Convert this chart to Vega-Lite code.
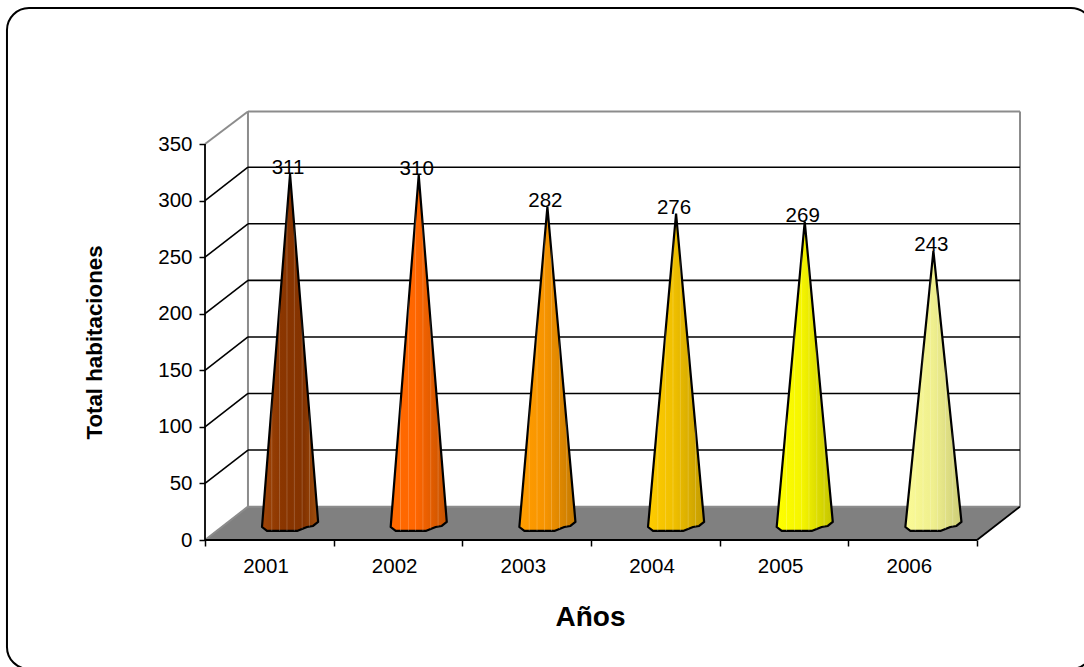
{
"$schema":"https://vega.github.io/schema/vega-lite/v6.json",
"width":815,"height":429,
"autosize":{"type":"none"},
"padding":{"left":205,"top":111,"right":64,"bottom":127},
"background":"white",
"config":{"view":{"stroke":null},"font":"Liberation Sans"},
"datasets":{
"marco":[{"eje":-1.539,"eje2":6.901,"altura":470.2,"altura2":-114}],
"suelo":[{"vertice":1,"eje":0,"altura":0},{"vertice":2,"eje":0.334,"altura":29.5},{"vertice":3,"eje":6.334,"altura":29.5},{"vertice":4,"eje":6,"altura":0}],
"rejilla":[
{"eje":0,"eje2":0.334,"altura":50,"altura2":79.5},{"eje":0,"eje2":0.334,"altura":100,"altura2":129.5},{"eje":0,"eje2":0.334,"altura":150,"altura2":179.5},{"eje":0,"eje2":0.334,"altura":200,"altura2":229.5},{"eje":0,"eje2":0.334,"altura":250,"altura2":279.5},{"eje":0,"eje2":0.334,"altura":300,"altura2":329.5},
{"eje":0.334,"eje2":6.334,"altura":79.5,"altura2":79.5},{"eje":0.334,"eje2":6.334,"altura":129.5,"altura2":129.5},{"eje":0.334,"eje2":6.334,"altura":179.5,"altura2":179.5},{"eje":0.334,"eje2":6.334,"altura":229.5,"altura2":229.5},{"eje":0.334,"eje2":6.334,"altura":279.5,"altura2":279.5},{"eje":0.334,"eje2":6.334,"altura":329.5,"altura2":329.5}],
"conos":[
{"anio":2001,"total":311,"vertice":0,"eje":0.661,"altura":323.5},{"anio":2001,"total":311,"vertice":1,"eje":0.879,"altura":16},{"anio":2001,"total":311,"vertice":2,"eje":0.84,"altura":12.4},{"anio":2001,"total":311,"vertice":3,"eje":0.793,"altura":11.5},{"anio":2001,"total":311,"vertice":4,"eje":0.715,"altura":8},{"anio":2001,"total":311,"vertice":5,"eje":0.482,"altura":8},{"anio":2001,"total":311,"vertice":6,"eje":0.443,"altura":11.5},{"anio":2001,"total":311,"vertice":7,"eje":0.661,"altura":323.5},
{"anio":2002,"total":310,"vertice":0,"eje":1.661,"altura":322.5},{"anio":2002,"total":310,"vertice":1,"eje":1.879,"altura":16},{"anio":2002,"total":310,"vertice":2,"eje":1.84,"altura":12.4},{"anio":2002,"total":310,"vertice":3,"eje":1.793,"altura":11.5},{"anio":2002,"total":310,"vertice":4,"eje":1.715,"altura":8},{"anio":2002,"total":310,"vertice":5,"eje":1.482,"altura":8},{"anio":2002,"total":310,"vertice":6,"eje":1.443,"altura":11.5},{"anio":2002,"total":310,"vertice":7,"eje":1.661,"altura":322.5},
{"anio":2003,"total":282,"vertice":0,"eje":2.661,"altura":294.5},{"anio":2003,"total":282,"vertice":1,"eje":2.879,"altura":16},{"anio":2003,"total":282,"vertice":2,"eje":2.84,"altura":12.4},{"anio":2003,"total":282,"vertice":3,"eje":2.793,"altura":11.5},{"anio":2003,"total":282,"vertice":4,"eje":2.715,"altura":8},{"anio":2003,"total":282,"vertice":5,"eje":2.482,"altura":8},{"anio":2003,"total":282,"vertice":6,"eje":2.443,"altura":11.5},{"anio":2003,"total":282,"vertice":7,"eje":2.661,"altura":294.5},
{"anio":2004,"total":276,"vertice":0,"eje":3.661,"altura":288.5},{"anio":2004,"total":276,"vertice":1,"eje":3.879,"altura":16},{"anio":2004,"total":276,"vertice":2,"eje":3.84,"altura":12.4},{"anio":2004,"total":276,"vertice":3,"eje":3.793,"altura":11.5},{"anio":2004,"total":276,"vertice":4,"eje":3.715,"altura":8},{"anio":2004,"total":276,"vertice":5,"eje":3.482,"altura":8},{"anio":2004,"total":276,"vertice":6,"eje":3.443,"altura":11.5},{"anio":2004,"total":276,"vertice":7,"eje":3.661,"altura":288.5},
{"anio":2005,"total":269,"vertice":0,"eje":4.661,"altura":281.5},{"anio":2005,"total":269,"vertice":1,"eje":4.879,"altura":16},{"anio":2005,"total":269,"vertice":2,"eje":4.84,"altura":12.4},{"anio":2005,"total":269,"vertice":3,"eje":4.793,"altura":11.5},{"anio":2005,"total":269,"vertice":4,"eje":4.715,"altura":8},{"anio":2005,"total":269,"vertice":5,"eje":4.482,"altura":8},{"anio":2005,"total":269,"vertice":6,"eje":4.443,"altura":11.5},{"anio":2005,"total":269,"vertice":7,"eje":4.661,"altura":281.5},
{"anio":2006,"total":243,"vertice":0,"eje":5.661,"altura":255.5},{"anio":2006,"total":243,"vertice":1,"eje":5.879,"altura":16},{"anio":2006,"total":243,"vertice":2,"eje":5.84,"altura":12.4},{"anio":2006,"total":243,"vertice":3,"eje":5.793,"altura":11.5},{"anio":2006,"total":243,"vertice":4,"eje":5.715,"altura":8},{"anio":2006,"total":243,"vertice":5,"eje":5.482,"altura":8},{"anio":2006,"total":243,"vertice":6,"eje":5.443,"altura":11.5},{"anio":2006,"total":243,"vertice":7,"eje":5.661,"altura":255.5}
]},
"encoding":{
"x":{"field":"eje","type":"quantitative","scale":{"domain":[0,6.334],"nice":false,"zero":false},
"axis":{"title":"Años","titleFontSize":28,"titleFontWeight":"bold","titleColor":"black","titleX":385,"titleY":85,"titleBaseline":"alphabetic","titleFont":"Liberation Sans",
"values":[0,0.47,1,1.47,2,2.47,3,3.47,4,4.47,5,5.47,6],"labelExpr":"datum.value % 1 === 0 ? '' : '' + (2001 + floor(datum.value))","labelFontSize":20.5,"labelColor":"black","labelPadding":10,"labelOverlap":false,"labelFlush":false,"labelFont":"Liberation Sans","domain":false,"grid":false,"tickColor":"black","tickWidth":1.5,"tickSize":6,"tickOpacity":{"expr":"datum.value % 1 === 0 ? 1 : 0"}}},
"y":{"field":"altura","type":"quantitative","scale":{"domain":[0,379.2],"nice":false,"zero":false},
"axis":{"title":"Total habitaciones","titleFontSize":22.3,"titleFontWeight":"bold","titleColor":"black","titleX":-99,"titleY":231,"titleFont":"Liberation Sans",
"values":[0,50,100,150,200,250,300,350],"labelFontSize":20.5,"labelColor":"black","labelPadding":7,"labelFont":"Liberation Sans","domain":false,"grid":false,"tickColor":"black","tickWidth":1.5,"tickSize":6}}
},
"layer":[
{"data":{"name":"marco"},"mark":{"type":"rect","cornerRadius":22,"fill":null,"stroke":"black","strokeWidth":2,"clip":false},"encoding":{"x2":{"field":"eje2"},"y2":{"field":"altura2"}}},
{"data":{"name":"suelo"},"mark":{"type":"line","fill":"#808080","stroke":"#808080","strokeWidth":1},"encoding":{"order":{"field":"vertice"}}},
{"data":{"values":[{"eje":0.334,"eje2":6.334,"altura":29.5,"altura2":29.5},{"eje":0.334,"eje2":6.334,"altura":378.7,"altura2":378.7},{"eje":0.334,"eje2":0.334,"altura":29.5,"altura2":378.7},{"eje":6.334,"eje2":6.334,"altura":29.5,"altura2":378.7},{"eje":0,"eje2":0.334,"altura":350,"altura2":378.7},{"eje":0,"eje2":0.334,"altura":0,"altura2":29.5}]},"mark":{"type":"rule","stroke":"#8c8c8c","strokeWidth":2},"encoding":{"x2":{"field":"eje2"},"y2":{"field":"altura2"}}},
{"data":{"name":"rejilla"},"mark":{"type":"rule","stroke":"black","strokeWidth":1.6},"encoding":{"x2":{"field":"eje2"},"y2":{"field":"altura2"}}},
{"data":{"values":[{"eje":0,"eje2":0,"altura":0,"altura2":350},{"eje":0,"eje2":6,"altura":0,"altura2":0},{"eje":6,"eje2":6.334,"altura":0,"altura2":29.5}]},"mark":{"type":"rule","stroke":"black","strokeWidth":1.8},"encoding":{"x2":{"field":"eje2"},"y2":{"field":"altura2"}}},
{"data":{"name":"conos"},"mark":{"type":"line","stroke":"black","strokeWidth":2.2,"strokeJoin":"round"},
"encoding":{"order":{"field":"vertice"},"detail":{"field":"anio"},
"fill":{"condition":[
{"test":"datum.anio === 2001","value":{"gradient":"linear","x1":0,"y1":0,"x2":1,"y2":0,"stops":[{"offset":0,"color":"#a04508"},{"offset":0.35,"color":"#8b3600"},{"offset":0.75,"color":"#843300"},{"offset":1,"color":"#a0500f"}]}},
{"test":"datum.anio === 2002","value":{"gradient":"linear","x1":0,"y1":0,"x2":1,"y2":0,"stops":[{"offset":0,"color":"#ff6a00"},{"offset":0.45,"color":"#ff6600"},{"offset":1,"color":"#c45200"}]}},
{"test":"datum.anio === 2003","value":{"gradient":"linear","x1":0,"y1":0,"x2":1,"y2":0,"stops":[{"offset":0,"color":"#ff9d00"},{"offset":0.45,"color":"#f79400"},{"offset":1,"color":"#c47a00"}]}},
{"test":"datum.anio === 2004","value":{"gradient":"linear","x1":0,"y1":0,"x2":1,"y2":0,"stops":[{"offset":0,"color":"#ffcc00"},{"offset":0.45,"color":"#f0c000"},{"offset":1,"color":"#c49c00"}]}},
{"test":"datum.anio === 2005","value":{"gradient":"linear","x1":0,"y1":0,"x2":1,"y2":0,"stops":[{"offset":0,"color":"#ffff00"},{"offset":0.45,"color":"#f5f500"},{"offset":1,"color":"#c4c400"}]}}
],"value":{"gradient":"linear","x1":0,"y1":0,"x2":1,"y2":0,"stops":[{"offset":0,"color":"#fbfb96"},{"offset":0.5,"color":"#efef8e"},{"offset":1,"color":"#cdcd78"}]}}}},
{"data":{"name":"conos"},"mark":{"type":"line","stroke":null,"fill":{"gradient":"linear","x1":0,"y1":0,"x2":1,"y2":0,"stops":[
{"offset":0.16,"color":"rgba(255,255,255,0)"},{"offset":0.175,"color":"rgba(255,255,255,0.22)"},{"offset":0.19,"color":"rgba(255,255,255,0)"},
{"offset":0.3,"color":"rgba(255,255,255,0)"},{"offset":0.315,"color":"rgba(255,255,255,0.22)"},{"offset":0.33,"color":"rgba(255,255,255,0)"},
{"offset":0.43,"color":"rgba(255,255,255,0)"},{"offset":0.445,"color":"rgba(255,255,255,0.22)"},{"offset":0.46,"color":"rgba(255,255,255,0)"},
{"offset":0.56,"color":"rgba(255,255,255,0)"},{"offset":0.575,"color":"rgba(255,255,255,0.22)"},{"offset":0.59,"color":"rgba(255,255,255,0)"},
{"offset":0.7,"color":"rgba(255,255,255,0)"},{"offset":0.715,"color":"rgba(255,255,255,0.22)"},{"offset":0.73,"color":"rgba(255,255,255,0)"},
{"offset":0.83,"color":"rgba(255,255,255,0)"},{"offset":0.845,"color":"rgba(255,255,255,0.22)"},{"offset":0.86,"color":"rgba(255,255,255,0)"}]}},
"encoding":{"order":{"field":"vertice"},"detail":{"field":"anio"}}},
{"data":{"name":"conos"},"transform":[{"filter":"datum.vertice === 0"}],"mark":{"type":"text","fontSize":20.5,"color":"black","font":"Liberation Sans","dx":-2,"dy":-6,"baseline":"middle","align":"center"},"encoding":{"text":{"field":"total","type":"quantitative"}}}
]
}
